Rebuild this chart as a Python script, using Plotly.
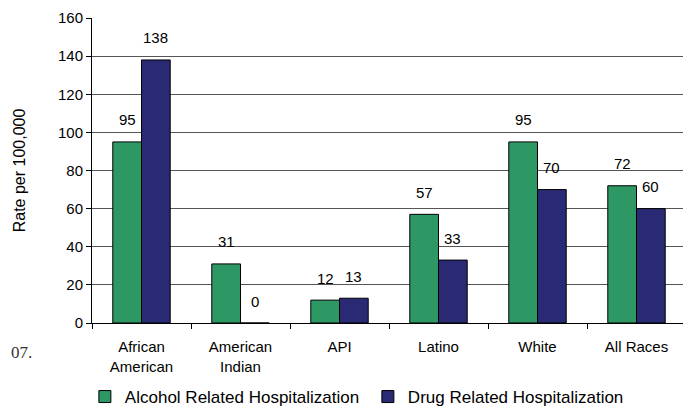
import plotly.graph_objects as go

categories = ["African<br>American", "American<br>Indian", "API", "Latino", "White", "All Races"]
alcohol = [95, 31, 12, 57, 95, 72]
drug = [138, 0, 13, 33, 70, 60]
series_names = ["Alcohol Related Hospitalization", "Drug Related Hospitalization"]
colors = ["#2E9865", "#2A2A74"]
y_ticks = [0, 20, 40, 60, 80, 100, 120, 140, 160]

FONT = "Liberation Sans, Arial, sans-serif"
BARGAP = 0.42
W, H = 683, 399
ML, MR, MT, MB = 84, 5, 10, 84
PLOT_W = W - ML - MR
PLOT_H = H - MT - MB
CAT_W = PLOT_W / len(categories)
HALF = CAT_W * (1 - BARGAP) / 4

fig = go.Figure()
for name, vals, col in zip(series_names, [alcohol, drug], colors):
    fig.add_trace(go.Bar(
        x=categories, y=vals, name=name,
        marker=dict(color=col, line=dict(color="#000000", width=1)),
    ))

# value labels above bars
for vals, sh in zip([alcohol, drug], [-HALF, HALF]):
    for c, v in zip(categories, vals):
        fig.add_annotation(x=c, y=v, xref="x", yref="y", text=str(v), showarrow=False,
                           xshift=sh, yshift=22, yanchor="middle",
                           font=dict(family=FONT, size=15, color="#000000"))

fig.update_layout(
    width=W, height=H,
    margin=dict(l=ML, r=MR, t=MT, b=MB, autoexpand=False),
    paper_bgcolor="white", plot_bgcolor="white",
    barmode="group", bargap=BARGAP, bargroupgap=0,
    font=dict(family=FONT, size=15, color="#000000"),
    showlegend=True,
    legend=dict(orientation="h", x=-0.012, xanchor="left", y=-74 / PLOT_H, yanchor="middle",
                font=dict(family=FONT, size=17, color="#000000"),
                itemwidth=30, entrywidth=238, traceorder="normal",
                bgcolor="rgba(0,0,0,0)"),
    xaxis=dict(type="category", automargin=False, showline=True, linecolor="#000000", linewidth=1,
               ticks="outside", tickson="boundaries", ticklen=5, tickcolor="#000000",
               ticklabelstandoff=10,
               tickfont=dict(family=FONT, size=15, color="#000000"), showgrid=False),
    yaxis=dict(range=[0, 160], tickvals=y_ticks, automargin=False,
               showline=True, linecolor="#000000", linewidth=1,
               ticks="outside", ticklen=5, tickcolor="#000000",
               showgrid=True, gridcolor="#555555", gridwidth=1, zeroline=False,
               tickfont=dict(family=FONT, size=15, color="#000000"),
               title=dict(text="Rate per 100,000", standoff=28,
                          font=dict(family=FONT, size=16, color="#000000"))),
)

fig.add_shape(type="line", xref="paper", yref="paper", x0=1, x1=1, y0=0, y1=1,
              line=dict(color="#888888", width=1))

fig.add_annotation(text="07.", xref="paper", yref="paper", x=-(ML - 1) / PLOT_W, xanchor="left",
                   y=-29 / PLOT_H, yanchor="middle", showarrow=False,
                   font=dict(family="Liberation Serif, Times New Roman, serif", size=17, color="#333333"))

fig.write_html("out.html")
